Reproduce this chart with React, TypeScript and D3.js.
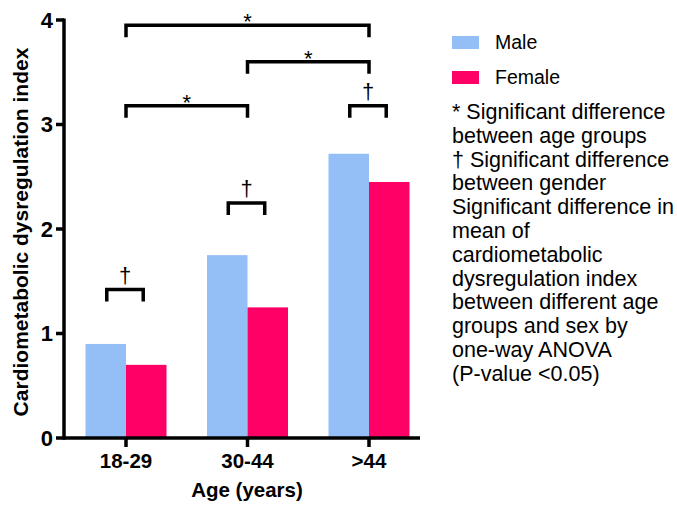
import React from "react";
import * as d3 from "d3";

const categories = ["18-29", "30-44", ">44"];
const seriesNames = ["Male", "Female"];
const maleValues = [0.9, 1.75, 2.72];
const femaleValues = [0.7, 1.25, 2.45];
const yTicks = [0, 1, 2, 3, 4];
const ageBrackets = [
  { from: "18-29", to: ">44", y: 3.95 },
  { from: "30-44", to: ">44", y: 3.6 },
  { from: "18-29", to: "30-44", y: 3.18 },
];
const genderBrackets = [
  { group: "18-29", y: 1.42 },
  { group: "30-44", y: 2.25 },
  { group: ">44", y: 3.18 },
];
const noteLines = [
  "* Significant difference",
  "between age groups",
  "\u2020 Significant difference",
  "between gender",
  "Significant difference in",
  "mean of",
  "cardiometabolic",
  "dysregulation index",
  "between different age",
  "groups and sex by",
  "one-way ANOVA",
  "(P-value <0.05)",
];

const W = 677;
const H = 507;
const FONT = "'Liberation Sans', Arial, Helvetica, sans-serif";
const COLORS = ["#94bff6", "#ff0066"];

export default function App() {
  const axisX = 64;
  const axisY = 438;
  const y = d3.scaleLinear().domain([0, 4]).range([axisY, 20]);
  const x = d3
    .scaleBand<string>()
    .domain(categories)
    .range([65.25, 429.75])
    .paddingInner(1 / 3)
    .paddingOuter(1 / 6);
  const sub = d3.scaleBand<string>().domain(seriesNames).range([0, x.bandwidth()]);
  const series = [maleValues, femaleValues];
  const center = (c: string) => (x(c) as number) + x.bandwidth() / 2;
  const sw = 3.5;
  const leg = 12;

  return (
    <svg
      width={W}
      height={H}
      viewBox={`0 0 ${W} ${H}`}
      style={{ position: "absolute", left: 0, top: 0, background: "#fff" }}
      fontFamily={FONT}
    >
      {/* bars */}
      {categories.map((c, i) =>
        seriesNames.map((s, j) => (
          <rect
            key={c + s}
            x={(x(c) as number) + (sub(s) as number)}
            y={y(series[j][i])}
            width={sub.bandwidth()}
            height={axisY - y(series[j][i])}
            fill={COLORS[j]}
          />
        ))
      )}

      {/* axes */}
      <line x1={axisX} x2={axisX} y1={y(4) - 1.5} y2={axisY + 1.75} stroke="#000" strokeWidth={sw} />
      <line x1={axisX} x2={420} y1={axisY} y2={axisY} stroke="#000" strokeWidth={sw} />
      {yTicks.map((t) => (
        <g key={t}>
          <line x1={axisX - 8} x2={axisX} y1={y(t)} y2={y(t)} stroke="#000" strokeWidth={sw} />
          <text
            x={53}
            y={y(t)}
            dy="0.36em"
            textAnchor="end"
            fontSize={22}
            fontWeight="bold"
          >
            {t}
          </text>
        </g>
      ))}
      {categories.map((c) => (
        <g key={c}>
          <line x1={center(c)} x2={center(c)} y1={axisY} y2={axisY + 9} stroke="#000" strokeWidth={sw} />
          <text x={center(c)} y={468} textAnchor="middle" fontSize={20.5} fontWeight="bold">
            {c}
          </text>
        </g>
      ))}
      <text x={247} y={497} textAnchor="middle" fontSize={20.5} fontWeight="bold">
        Age (years)
      </text>
      <text
        transform={`translate(28,232) rotate(-90)`}
        textAnchor="middle"
        fontSize={21}
        fontWeight="bold"
      >
        Cardiometabolic dysregulation index
      </text>

      {/* age-group brackets */}
      {ageBrackets.map((b, i) => {
        const x1 = center(b.from);
        const x2 = center(b.to);
        const yy = y(b.y);
        return (
          <g key={"a" + i}>
            <path
              d={`M${x1},${yy + leg} V${yy} H${x2} V${yy + leg}`}
              fill="none"
              stroke="#000"
              strokeWidth={sw}
            />
            <text x={(x1 + x2) / 2} y={yy + 4} textAnchor="middle" fontSize={22}>
              *
            </text>
          </g>
        );
      })}

      {/* gender brackets */}
      {genderBrackets.map((b, i) => {
        const cx = center(b.group) - 1;
        const half = x.bandwidth() * 0.225;
        const yy = y(b.y);
        return (
          <g key={"g" + i}>
            <path
              d={`M${cx - half},${yy + leg} V${yy} H${cx + half} V${yy + leg}`}
              fill="none"
              stroke="#000"
              strokeWidth={sw}
            />
            <text x={cx} y={yy - 7} textAnchor="middle" fontSize={22}>
              {"\u2020"}
            </text>
          </g>
        );
      })}

      {/* legend */}
      {seriesNames.map((s, j) => (
        <g key={s}>
          <rect x={452} y={36 + j * 35} width={27} height={13} fill={COLORS[j]} />
          <text x={495} y={49 + j * 34.5} fontSize={19.5}>
            {s}
          </text>
        </g>
      ))}
      {noteLines.map((l, i) => (
        <text key={i} x={452} y={119 + i * 23.8} fontSize={21.5}>
          {l}
        </text>
      ))}
    </svg>
  );
}
